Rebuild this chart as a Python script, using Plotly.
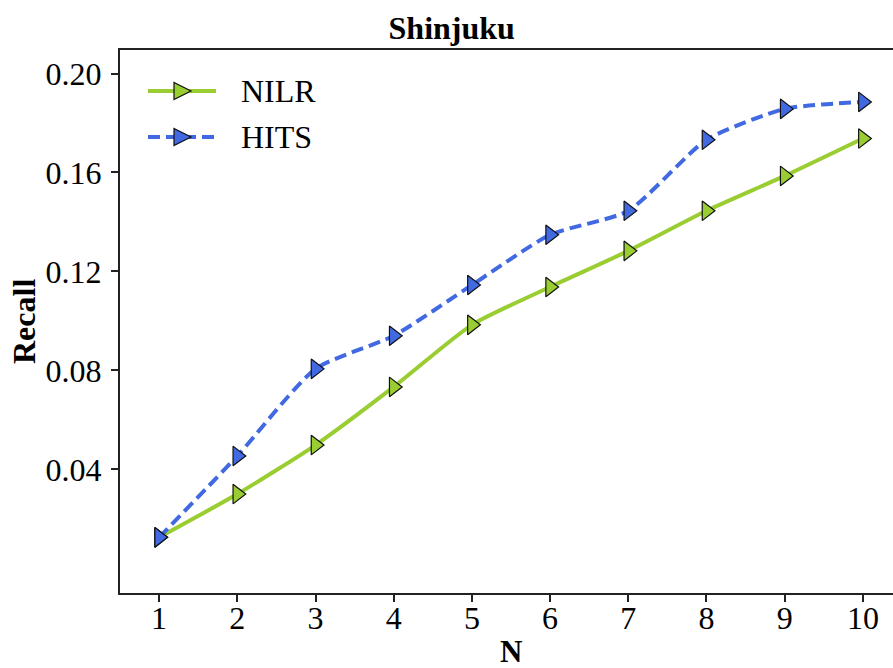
import plotly.graph_objects as go

N = [1, 2, 3, 4, 5, 6, 7, 8, 9, 10]
nilr = [0.0125, 0.030, 0.0498, 0.0733, 0.0984, 0.1137, 0.1283, 0.1445, 0.1586, 0.1737]
hits = [0.0125, 0.0454, 0.0806, 0.0940, 0.1145, 0.1348, 0.1445, 0.1732, 0.1857, 0.1885]
yticks = [0.04, 0.08, 0.12, 0.16, 0.20]
yticklabels = ["0.04", "0.08", "0.12", "0.16", "0.20"]
series_names = ["NILR", "HITS"]

FONT = "Liberation Serif"
GREEN = "#9ACD32"
BLUE = "#4169E1"
DASH = "12px,6px"
W, H = 893, 668
L, R, T, B = 120, 0, 50, 75
PW, PH = W - L - R, H - T - B


def px_x(px):
    return (px - L) / PW


def px_y(py):
    return (H - B - py) / PH


fig = go.Figure()
fig.add_trace(go.Scatter(
    x=N, y=nilr, name=series_names[0], mode="lines+markers", showlegend=False,
    line=dict(color=GREEN, width=4, shape="spline", smoothing=0.6),
    marker=dict(symbol="triangle-right", size=17, color=GREEN,
                line=dict(color="#111", width=1.2)),
))
fig.add_trace(go.Scatter(
    x=N, y=hits, name=series_names[1], mode="lines+markers", showlegend=False,
    line=dict(color=BLUE, width=4, dash=DASH, shape="spline", smoothing=0.6),
    marker=dict(symbol="triangle-right", size=17, color=BLUE,
                line=dict(color="#111", width=1.2)),
))

# legend (matplotlib-like: long handle, marker in the middle, text on the right)
for name, yy, col, dash in [(series_names[0], 91, GREEN, "solid"),
                            (series_names[1], 137, BLUE, DASH)]:
    fig.add_shape(type="line", xref="paper", yref="paper",
                  x0=px_x(148), x1=px_x(216), y0=px_y(yy), y1=px_y(yy),
                  line=dict(color=col, width=4, dash=dash), layer="above")
    path = "M {:.5f},{:.5f} L {:.5f},{:.5f} L {:.5f},{:.5f} Z".format(
        px_x(174), px_y(yy - 8.5), px_x(174), px_y(yy + 8.5), px_x(191), px_y(yy))
    fig.add_shape(type="path", xref="paper", yref="paper", path=path,
                  fillcolor=col, line=dict(color="#111", width=1.2), layer="above")
    fig.add_annotation(text=name, xref="paper", yref="paper",
                       x=px_x(239), y=px_y(yy), xanchor="left", yanchor="middle",
                       showarrow=False,
                       font=dict(family=FONT, size=32, color="black"))

fig.update_layout(
    width=W, height=H,
    margin=dict(l=L, r=R, t=T, b=B),
    paper_bgcolor="white", plot_bgcolor="white",
    font=dict(family=FONT, size=32, color="black"),
    title=dict(text="<b>Shinjuku</b>", x=px_x(511), xanchor="center",
               y=1 - 28 / H, yanchor="middle",
               font=dict(family=FONT, size=32, color="black")),
    showlegend=False,
)
fig.update_xaxes(
    range=[0.5, 10.385], tickmode="array", tickvals=N,
    ticktext=[str(v) for v in N],
    showgrid=False, zeroline=False,
    showline=True, linecolor="#222", linewidth=2, mirror=True,
    ticks="outside", ticklen=7, tickwidth=1.5, tickcolor="#222",
    ticklabelstandoff=-11,
    tickfont=dict(family=FONT, size=32, color="black"),
)
fig.update_yaxes(
    range=[-0.0100, 0.2095], tickmode="array", tickvals=yticks, ticktext=yticklabels,
    showgrid=False, zeroline=False,
    showline=True, linecolor="#222", linewidth=2, mirror=False,
    ticks="outside", ticklen=7, tickwidth=1.5, tickcolor="#222",
    ticklabelstandoff=3,
    tickfont=dict(family=FONT, size=32, color="black"),
)
fig.add_annotation(text="<b>N</b>", xref="paper", yref="paper",
                   x=px_x(511), y=px_y(651),
                   xanchor="center", yanchor="middle", showarrow=False,
                   font=dict(family=FONT, size=31, color="black"))
fig.add_annotation(text="<b>Recall</b>", xref="paper", yref="paper",
                   x=px_x(24), y=px_y(322), textangle=-90,
                   xanchor="center", yanchor="middle", showarrow=False,
                   font=dict(family=FONT, size=32, color="black"))

fig.write_html("out.html")
